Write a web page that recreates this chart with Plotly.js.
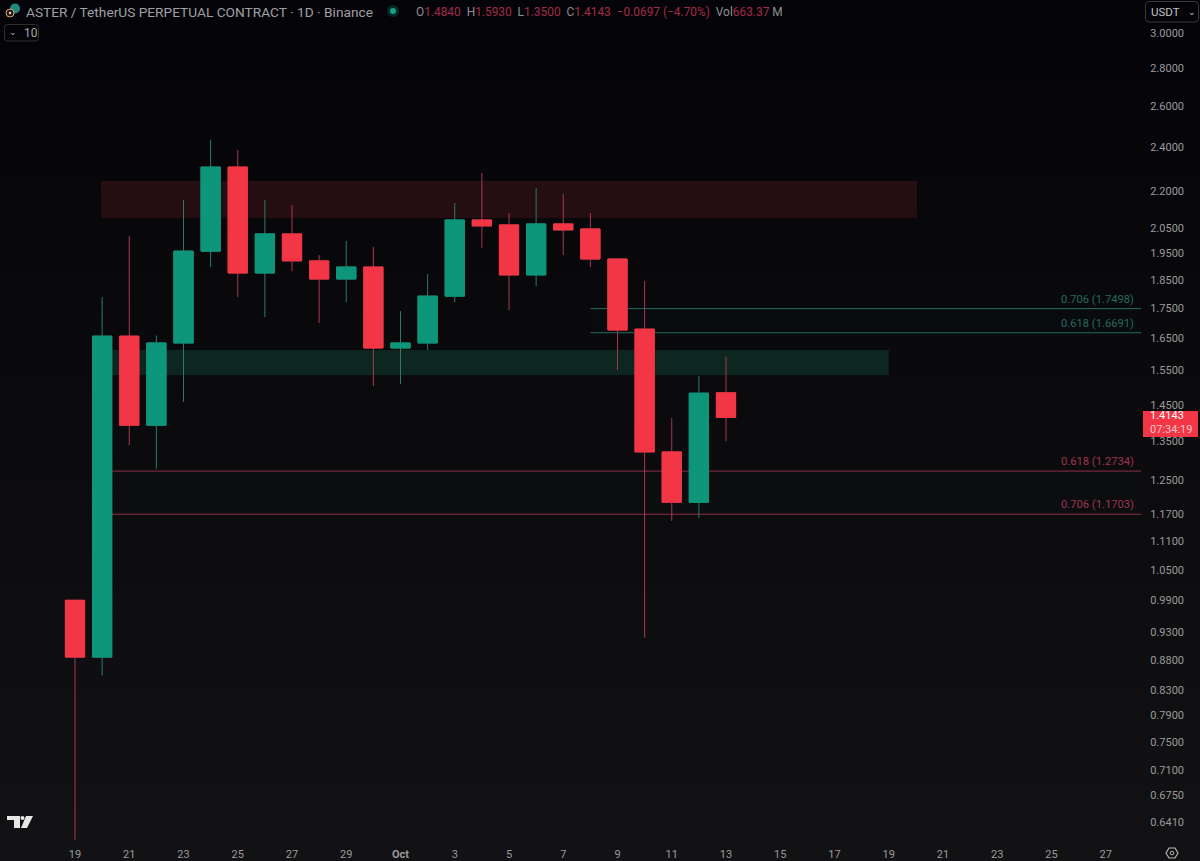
<!DOCTYPE html>
<html>
<head>
<meta charset="utf-8">
<script src="https://cdn.plot.ly/plotly-3.0.1.min.js"></script>
<style>
html,body{margin:0;padding:0;width:1200px;height:861px;overflow:hidden;background:linear-gradient(180deg,#040408 0%,#09090c 35%,#0d0d0f 65%,#121214 100%);}
#chart{width:1200px;height:861px;}
</style>
</head>
<body>
<div id="chart"></div>
<script>
const dates = ['2025-09-19','2025-09-20','2025-09-21','2025-09-22','2025-09-23','2025-09-24','2025-09-25','2025-09-26','2025-09-27','2025-09-28','2025-09-29','2025-09-30','2025-10-01','2025-10-02','2025-10-03','2025-10-04','2025-10-05','2025-10-06','2025-10-07','2025-10-08','2025-10-09','2025-10-10','2025-10-11','2025-10-12','2025-10-13'];
const opens  = [0.989,0.885,1.658,1.393,1.636,1.958,2.308,1.876,2.025,1.921,1.854,1.898,1.620,1.636,1.793,2.081,2.061,1.869,2.065,2.045,1.928,1.681,1.322,1.198,1.4840];
const highs  = [0.989,1.790,2.017,1.660,2.164,2.434,2.386,2.164,2.143,1.943,1.997,1.974,1.741,1.872,2.151,2.281,2.110,2.215,2.189,2.110,1.928,1.847,1.413,1.534,1.5930];
const lows   = [0.619,0.854,1.340,1.279,1.458,1.898,1.790,1.721,1.883,1.701,1.772,1.504,1.510,1.614,1.772,1.970,1.745,1.829,1.943,1.898,1.552,0.919,1.155,1.162,1.3500];
const closes = [0.885,1.658,1.393,1.636,1.958,2.308,1.876,2.025,1.921,1.854,1.898,1.620,1.636,1.793,2.081,2.057,1.869,2.065,2.041,1.928,1.678,1.322,1.198,1.483,1.4143];

const priceTicks = [3.0,2.8,2.6,2.4,2.2,2.05,1.95,1.85,1.75,1.65,1.55,1.45,1.35,1.25,1.17,1.11,1.05,0.99,0.93,0.88,0.83,0.79,0.75,0.71,0.675,0.641];
const dateTicks = ['2025-09-19','2025-09-21','2025-09-23','2025-09-25','2025-09-27','2025-09-29','2025-10-01','2025-10-03','2025-10-05','2025-10-07','2025-10-09','2025-10-11','2025-10-13','2025-10-15','2025-10-17','2025-10-19','2025-10-21','2025-10-23','2025-10-25','2025-10-27'];
const dateLabels = ['19','21','23','25','27','29','<b>Oct</b>','3','5','7','9','11','13','15','17','19','21','23','25','27'];

const fibUpper = [{r:'0.706',v:1.7498},{r:'0.618',v:1.6691}];
const fibLower = [{r:'0.618',v:1.2734},{r:'0.706',v:1.1703}];

const GREEN='#0e967b', RED='#f23645', WICK_G='#2b7a69', WICK_R='#a8384f', GREY='#9a9a9c';
const FONT='Roboto, "Liberation Sans", sans-serif';
const W=1141, H=843;
const X=p=>p/W, Y=p=>1-p/H;
const path=pts=>pts.map((q,i)=>(i?'L':'M')+X(q[0]).toFixed(5)+','+Y(q[1]).toFixed(5)).join(' ')+' Z';
const paper={xref:'paper',yref:'paper'};
const circle=(cx,cy,r,o)=>Object.assign({type:'circle',x0:X(cx-r),x1:X(cx+r),y0:Y(cy+r),y1:Y(cy-r),line:{width:0}},paper,o);

const shapes=[
 {type:'rect',layer:'below',xref:'x',yref:'y',x0:'2025-09-19 23:00',x1:'2025-10-20 01:00',y0:2.089,y1:2.246,fillcolor:'#240e11',line:{width:0}},
 {type:'rect',layer:'below',xref:'x',yref:'y',x0:'2025-09-20',x1:'2025-10-19',y0:1.537,y1:1.614,fillcolor:'#0e2620',line:{width:0}},
 {type:'rect',layer:'below',xref:'x',yref:'y',x0:'2025-10-08',x1:'2025-10-28 07:12',y0:fibUpper[1].v,y1:fibUpper[0].v,fillcolor:'rgba(8,153,129,0.012)',line:{width:0}},
 {type:'rect',layer:'below',xref:'x',yref:'y',x0:'2025-09-20',x1:'2025-10-28 07:12',y0:fibLower[1].v,y1:fibLower[0].v,fillcolor:'rgba(8,153,129,0.012)',line:{width:0}}
];
fibUpper.forEach(f=>shapes.push({type:'line',layer:'below',xref:'x',yref:'y',x0:'2025-10-08',x1:'2025-10-28 07:12',y0:f.v,y1:f.v,line:{color:'#256b5b',width:1}}));
fibLower.forEach(f=>shapes.push({type:'line',layer:'below',xref:'x',yref:'y',x0:'2025-09-20',x1:'2025-10-28 07:12',y0:f.v,y1:f.v,line:{color:'#8f3049',width:1}}));

// Chrome: USDT button, collapse button, logo, legend dot, coin icon, settings icon, price tag
function rounded(x0,y0,x1,y1,r){
 const a=(x,y)=>X(x).toFixed(5)+','+Y(y).toFixed(5);
 return 'M'+a(x0+r,y0)+' L'+a(x1-r,y0)+' Q'+a(x1,y0)+' '+a(x1,y0+r)+' L'+a(x1,y1-r)+' Q'+a(x1,y1)+' '+a(x1-r,y1)+' L'+a(x0+r,y1)+' Q'+a(x0,y1)+' '+a(x0,y1-r)+' L'+a(x0,y0+r)+' Q'+a(x0,y0)+' '+a(x0+r,y0)+' Z';
}
shapes.push(Object.assign({type:'path',path:rounded(1145.5,1.5,1198.5,22,4),line:{color:'#3a3a3c',width:1}},paper));
shapes.push(Object.assign({type:'path',path:rounded(4.5,24.5,38.5,41,3),line:{color:'#303032',width:1}},paper));
shapes.push(Object.assign({type:'path',path:path([[7,816],[20,816],[20,828],[14,828],[14,820],[7,820]]),fillcolor:'#e6e6e6',line:{width:0}},paper));
shapes.push(circle(22.5,818,2,{fillcolor:'#e6e6e6'}));
shapes.push(Object.assign({type:'path',path:path([[26,816],[33,816],[27,828],[21,828]]),fillcolor:'#e6e6e6',line:{width:0}},paper));
shapes.push(circle(393,11,6,{fillcolor:'rgba(8,153,129,0.25)'}));
shapes.push(circle(393,11,3,{fillcolor:'#16a085'}));
shapes.push(circle(15,8.5,5,{fillcolor:'#1e8a80'}));
shapes.push(circle(10,13,4,{fillcolor:'#2a1a14',line:{color:'#d8a070',width:1}}));
shapes.push(circle(10,13,1.2,{fillcolor:'#e8d8c8'}));
shapes.push(Object.assign({type:'path',path:path([[1166,853],[1169,848],[1175,848],[1178,853],[1175,858],[1169,858]]),line:{color:'#b8b8b8',width:1.2}},paper));
shapes.push(circle(1172,853,1.8,{line:{color:'#b8b8b8',width:1}}));
shapes.push(Object.assign({type:'rect',x0:X(1143),x1:X(1198),y0:Y(437),y1:Y(411),fillcolor:RED,line:{width:0}},paper));

const dimRed='#a32c49';
const lab=t=>'<span style="color:#8f8f91">'+t+'</span>';
const val=t=>'<span style="color:'+dimRed+'">'+t+'</span>';
const annotations=[
 Object.assign({x:X(24),y:Y(11.5),xanchor:'left',yanchor:'middle',showarrow:false,text:'ASTER / TetherUS PERPETUAL CONTRACT · 1D · Binance',font:{family:FONT,size:13.7,color:'#a0a0a2'}},paper),
 Object.assign({x:X(414),y:Y(11.5),xanchor:'left',yanchor:'middle',showarrow:false,
   text:lab('O')+val('1.4840')+'  '+lab('H')+val('1.5930')+'  '+lab('L')+val('1.3500')+'  '+lab('C')+val('1.4143')+'  '+val('−0.0697 (−4.70%)')+'  '+lab('Vol')+val('663.37')+lab(' M'),
   font:{family:FONT,size:11.9,color:'#8f8f91'}},paper),
 Object.assign({x:X(1149),y:Y(11.5),xanchor:'left',yanchor:'middle',showarrow:false,text:'USDT',font:{family:FONT,size:11.5,color:'#c0c0c2'}},paper),
 Object.assign({x:X(1192),y:Y(11.5),xanchor:'center',yanchor:'middle',showarrow:false,text:'⌄',font:{family:'"DejaVu Sans"',size:9,color:'#c0c0c2'}},paper),
 Object.assign({x:X(13),y:Y(32),xanchor:'center',yanchor:'middle',showarrow:false,text:'⌄',font:{family:'"DejaVu Sans"',size:9,color:'#b0b0b2'}},paper),
 Object.assign({x:X(22),y:Y(32.5),xanchor:'left',yanchor:'middle',showarrow:false,text:'10',font:{family:FONT,size:12,color:'#a8a8aa'}},paper),
 Object.assign({x:X(1149),y:Y(422.5),xanchor:'left',yanchor:'middle',showarrow:false,align:'left',borderpad:0,
  text:'1.4143<br><span style="color:#fbc4ca">07:34:19</span>',font:{family:FONT,size:11,color:'#ffffff'}},paper)
];
fibUpper.forEach(f=>annotations.push({xref:'paper',yref:'y',x:X(1136),y:Math.log10(f.v),xanchor:'right',yanchor:'bottom',yshift:1,showarrow:false,text:f.r+' ('+f.v.toFixed(4)+')',font:{family:FONT,size:11.2,color:'#256b5b'}}));
fibLower.forEach(f=>annotations.push({xref:'paper',yref:'y',x:X(1136),y:Math.log10(f.v),xanchor:'right',yanchor:'bottom',yshift:1,showarrow:false,text:f.r+' ('+f.v.toFixed(4)+')',font:{family:FONT,size:11.2,color:'#a03450'}}));

// Thin, dim wicks underneath; clean-edged bodies drawn over them from the same values.
const wicks={
 type:'candlestick',x:dates,open:opens,high:highs,low:lows,close:closes,whiskerwidth:0,
 increasing:{line:{color:WICK_G,width:1},fillcolor:GREEN},
 decreasing:{line:{color:WICK_R,width:1},fillcolor:RED},
 showlegend:false,hoverinfo:'skip'
};
const bodies={
 type:'candlestick',x:dates,open:opens,close:closes,
 high:opens.map((o,i)=>Math.max(o,closes[i])),low:opens.map((o,i)=>Math.min(o,closes[i])),whiskerwidth:0,
 increasing:{line:{color:GREEN,width:1},fillcolor:GREEN},
 decreasing:{line:{color:RED,width:1},fillcolor:RED},
 showlegend:false,hoverinfo:'skip'
};
const layout={
 width:1200,height:861,showlegend:false,
 margin:{l:0,r:59,t:0,b:18,pad:0},
 paper_bgcolor:'rgba(0,0,0,0)',plot_bgcolor:'rgba(0,0,0,0)',
 boxmode:'overlay',boxgap:0.29,boxgroupgap:0,
 font:{family:FONT,color:GREY,size:11},
 xaxis:{type:'date',range:['2025-09-16 05:38','2025-10-28 07:12'],rangeslider:{visible:false},
   tickmode:'array',tickvals:dateTicks,ticktext:dateLabels,showgrid:false,zeroline:false,showline:false,
   ticks:'outside',ticklen:1,tickcolor:'rgba(0,0,0,0)',tickfont:{family:FONT,size:11,color:GREY},tickangle:0},
 yaxis:{type:'log',side:'right',range:[Math.log10(0.6152),Math.log10(3.2)],
   tickmode:'array',tickvals:priceTicks,ticktext:priceTicks.map(v=>v.toFixed(4)),showgrid:false,zeroline:false,showline:false,
   ticks:'outside',ticklen:6,tickcolor:'rgba(0,0,0,0)',tickfont:{family:FONT,size:11,color:GREY}},
 shapes:shapes,annotations:annotations
};
Plotly.newPlot('chart',[wicks,bodies],layout,{displayModeBar:false,staticPlot:true});
</script>
</body>
</html>
